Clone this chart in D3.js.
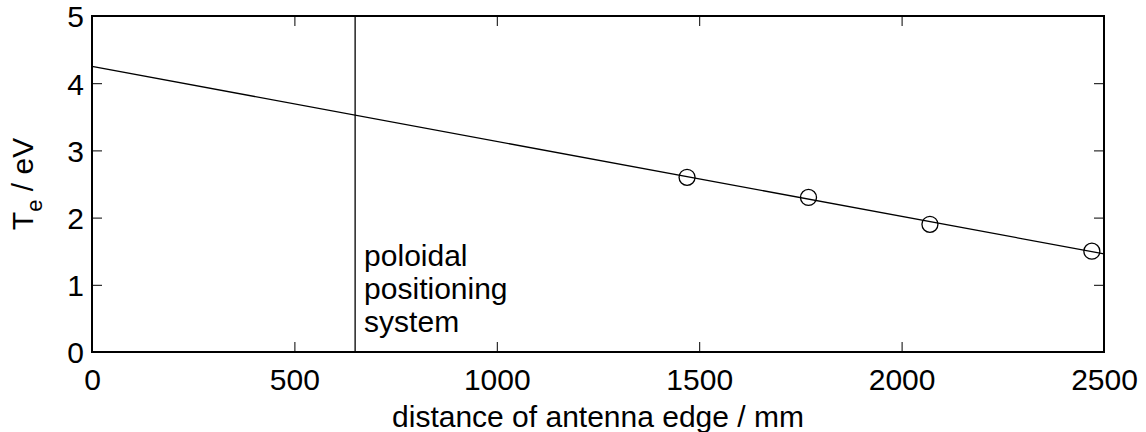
<!DOCTYPE html>
<meta charset="utf-8">
<head>
	<title>Te vs distance</title>
</head>
<style>
body{
	margin: 0;
	background: #fff;
}
svg text{
	font-family: "Liberation Sans", Arial, sans-serif;
	font-size: 30px;
	fill: #000;
}
.axis path{
	display: none;
}
.axis line{
	stroke: #000;
	stroke-width: 1;
}
</style>
<body>
<svg class="chart" width="1146" height="432"></svg>

<script src="https://cdnjs.cloudflare.com/ajax/libs/d3/7.8.5/d3.min.js"></script>
<script>

// measured points
var dist = [1470, 1770, 2070, 2470];
var te = [2.6, 2.3, 1.9, 1.5];

// linear fit, end points
var fitDist = [0, 2500];
var fitTe = [4.25, 1.46];

// marker for the poloidal positioning system
var ppsDist = 650;
var ppsLabel = ['poloidal', 'positioning', 'system'];

var xTicks = [0, 500, 1000, 1500, 2000, 2500];
var yTicks = [0, 1, 2, 3, 4, 5];

// plot box (note: "top" is taken by window.top)
var pLeft = 92, pRight = 1104, pTop = 16, pBottom = 352;

var svg = d3.select('.chart');

var x = d3.scaleLinear().domain([0, 2500]).range([pLeft, pRight]);
var y = d3.scaleLinear().domain([0, 5]).range([pBottom, pTop]);

// axes, ticks pointing inward
var gx = svg.append('g')
	.attr('class', 'axis')
	.attr('transform', 'translate(0,' + pBottom + ')')
	.call(d3.axisBottom(x).tickValues(xTicks).tickSize(-10).tickFormat(d3.format('d')));
gx.selectAll('text')
	.attr('y', 38)
	.attr('dy', null);

svg.append('g')
	.attr('class', 'axis')
	.attr('transform', 'translate(0,' + pTop + ')')
	.call(d3.axisTop(x).tickValues(xTicks).tickSize(-10).tickFormat(''));

var gy = svg.append('g')
	.attr('class', 'axis')
	.attr('transform', 'translate(' + pLeft + ',0)')
	.call(d3.axisLeft(y).tickValues(yTicks).tickSize(-10).tickFormat(d3.format('d')));
gy.selectAll('text')
	.attr('x', -8)
	.attr('dy', '0.36em');

svg.append('g')
	.attr('class', 'axis')
	.attr('transform', 'translate(' + pRight + ',0)')
	.call(d3.axisRight(y).tickValues(yTicks).tickSize(-10).tickFormat(''));

svg.selectAll('.axis').attr('font-size', null).attr('font-family', null);

// box
svg.append('rect')
	.attr('x', pLeft)
	.attr('y', pTop)
	.attr('width', pRight - pLeft)
	.attr('height', pBottom - pTop)
	.attr('fill', 'none')
	.attr('stroke', '#000')
	.attr('stroke-width', 2);

// vertical marker line
svg.append('line')
	.attr('x1', x(ppsDist))
	.attr('x2', x(ppsDist))
	.attr('y1', pTop)
	.attr('y2', pBottom)
	.attr('stroke', '#000')
	.attr('stroke-width', 1.3);

svg.append('g')
	.selectAll('text')
	.data(ppsLabel)
	.enter()
	.append('text')
	.attr('x', x(ppsDist) + 9)
	.attr('y', function(d, i){
		return 266 + i * 33;
	})
	.text(function(d){ return d; });

// fit line
var line = d3.line()
	.x(function(d){ return x(d[0]); })
	.y(function(d){ return y(d[1]); });

svg.append('path')
	.datum(d3.zip(fitDist, fitTe))
	.attr('d', line)
	.attr('fill', 'none')
	.attr('stroke', '#000')
	.attr('stroke-width', 1.3);

// data points
svg.append('g')
	.selectAll('circle')
	.data(d3.zip(dist, te))
	.enter()
	.append('circle')
	.attr('cx', function(d){ return x(d[0]); })
	.attr('cy', function(d){ return y(d[1]); })
	.attr('r', 8)
	.attr('fill', 'none')
	.attr('stroke', '#000')
	.attr('stroke-width', 1.3);

// axis labels
svg.append('text')
	.attr('x', (pLeft + pRight) / 2)
	.attr('y', 427)
	.attr('text-anchor', 'middle')
	.text('distance of antenna edge / mm');

var yl = svg.append('text')
	.attr('transform', 'translate(33,' + ((pTop + pBottom) / 2) + ') rotate(-90)')
	.attr('text-anchor', 'middle');
yl.append('tspan').text('T');
yl.append('tspan').attr('dy', 9).attr('font-size', 22).text('e');
yl.append('tspan').attr('dy', -9).text(' / eV');

</script>
</body>
</html>
